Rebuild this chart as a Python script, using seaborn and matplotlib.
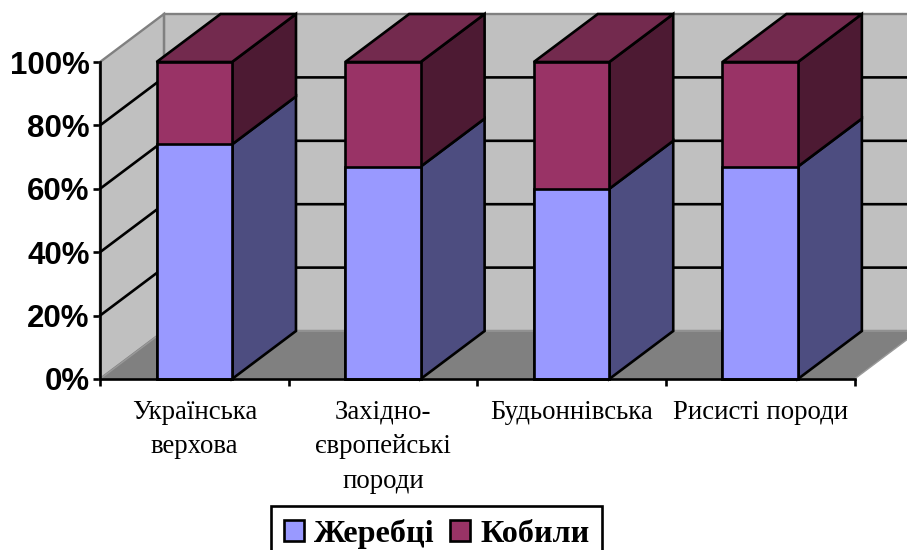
import matplotlib
matplotlib.use("Agg")
import matplotlib.pyplot as plt
from matplotlib.patches import Patch, Polygon
import numpy as np
import pandas as pd
import seaborn as sns

# Share of stallions and mares per breed group, percent
categories = ["Українська\nверхова", "Західно-\nєвропейські\nпороди", "Будьоннівська", "Рисисті породи"]
stallions = [74, 67, 60, 67]
mares = [26, 33, 40, 33]
series_names = ["Жеребці", "Кобили"]
y_ticks = [0, 20, 40, 60, 80, 100]

BLUE, BLUE_SIDE = "#9999FF", "#4D4D80"
PLUM, PLUM_SIDE, PLUM_TOP = "#993366", "#4D1A33", "#732A4E"
WALL, FLOOR, EDGE = "#C0C0C0", "#808080", "#808080"
BAR_WIDTH = 0.4
LINE = 1.9
# Oblique depth offset of the back plane, in data units (categories, percent)
DEPTH_X, DEPTH_Y = 0.339, 15.14

sns.set_theme(style="white")
W, H = 907, 550
fig = plt.figure(figsize=(W / 100, H / 100), dpi=100, facecolor="white")
ax = fig.add_axes([100 / W, (H - 379) / H, 754.5 / W, 317 / H])

df = pd.DataFrame({"category": categories, "stallions": stallions,
                   "total": np.add(stallions, mares)})


def project(x, pct, depth=0.0):
    return (x + depth * DEPTH_X, pct + depth * DEPTH_Y)


def face(points, color, edge="black", lw=LINE, z=3):
    ax.add_patch(Polygon(points, closed=True, facecolor=color, edgecolor=edge,
                         linewidth=lw, joinstyle="miter", clip_on=False, zorder=z))


x0, x1 = -0.5, 3.5
# Back wall, side wall and floor
face([project(x0, 0, 1), project(x1, 0, 1), project(x1, 100, 1), project(x0, 100, 1)], WALL, EDGE, 1.7, 0.5)
face([project(x0, 0), project(x0, 0, 1), project(x0, 100, 1), project(x0, 100)], WALL, EDGE, 1.7, 0.6)
face([project(x0, 0), project(x1, 0), project(x1, 0, 1), project(x0, 0, 1)], FLOOR, "#999999", 1.0, 0.7)

# Gridlines running across the side wall and back wall
for t in y_ticks[1:-1]:
    pts = [project(x0, t), project(x0, t, 1), project(x1, t, 1)]
    ax.plot(*zip(*pts), color="black", lw=LINE, clip_on=False, zorder=1,
            solid_joinstyle="miter")

# Front faces
sns.barplot(data=df, x="category", y="total", color=PLUM, saturation=1, width=BAR_WIDTH,
            edgecolor="black", linewidth=LINE, ax=ax, zorder=4, clip_on=False)
sns.barplot(data=df, x="category", y="stallions", color=BLUE, saturation=1, width=BAR_WIDTH,
            edgecolor="black", linewidth=LINE, ax=ax, zorder=4, clip_on=False)

# Side and top faces of every stacked column
for i, (s, m) in enumerate(zip(stallions, mares)):
    r = i + BAR_WIDTH / 2
    l = i - BAR_WIDTH / 2
    top = s + m
    face([project(r, 0), project(r, s), project(r, s, 1), project(r, 0, 1)], BLUE_SIDE)
    face([project(r, s), project(r, top), project(r, top, 1), project(r, s, 1)], PLUM_SIDE)
    face([project(l, top), project(r, top), project(r, top, 1), project(l, top, 1)], PLUM_TOP)

ax.set_xlim(x0, x1)
ax.set_ylim(0, 100)
ax.set_xlabel("")
ax.set_ylabel("")

for side in ("top", "right"):
    ax.spines[side].set_visible(False)
for side in ("left", "bottom"):
    ax.spines[side].set_linewidth(LINE)
    ax.spines[side].set_color("black")
    ax.spines[side].set_zorder(6)

ax.set_yticks(y_ticks)
ax.set_yticklabels([f"{t}%" for t in y_ticks], fontfamily="Liberation Sans",
                   fontweight="bold", fontsize=22.5, color="black")
ax.tick_params(axis="y", length=5, width=LINE, color="black", pad=2.5, left=True)

ax.set_xticks(np.arange(x0, x1 + 0.5))
ax.set_xticklabels([])
ax.set_xticks(np.arange(len(categories)), minor=True)
ax.set_xticklabels(categories, minor=True, fontfamily="Liberation Serif", fontsize=19.3,
                   linespacing=1.5, color="black")
ax.tick_params(axis="x", which="major", length=5, width=LINE, color="black", bottom=True)
ax.tick_params(axis="x", which="minor", length=0, pad=15, bottom=False)

handles = [Patch(facecolor=BLUE, edgecolor="black", linewidth=LINE, label=series_names[0]),
           Patch(facecolor=PLUM, edgecolor="black", linewidth=LINE, label=series_names[1])]
legend = ax.legend(handles=handles, loc="upper left", bbox_to_anchor=(271 / W, 1 - 506 / H),
                   bbox_transform=fig.transFigure, ncol=2, frameon=True, fancybox=False,
                   edgecolor="black", framealpha=1, borderaxespad=0, borderpad=0.4,
                   handlelength=0.62, handleheight=0.62, handletextpad=0.32, columnspacing=0.47,
                   prop={"family": "Liberation Serif", "weight": "bold", "size": 23.2})
legend.get_frame().set_linewidth(LINE)
legend.set_zorder(8)
for text in legend.get_texts():
    text.set_color("black")

fig.savefig("out.png", dpi=100, facecolor="white")
